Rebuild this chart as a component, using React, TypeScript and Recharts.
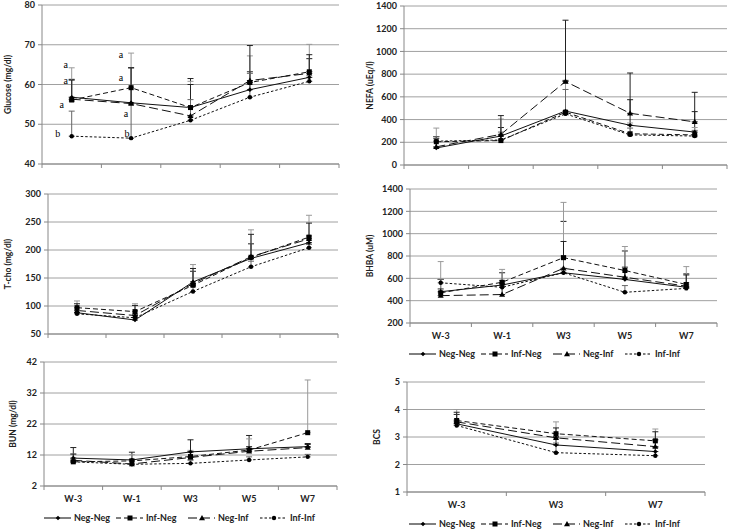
import React from 'react';
import { LineChart, Line, XAxis, YAxis, CartesianGrid, ErrorBar, Legend, ReferenceDot } from 'recharts';

const FONT = "Lato, 'Open Sans', 'Liberation Sans', sans-serif";

const weeks5 = ['W-3', 'W-1', 'W3', 'W5', 'W7'];
const weeks3 = ['W-3', 'W3', 'W7'];
const seriesNames = ['Neg-Neg', 'Inf-Neg', 'Neg-Inf', 'Inf-Inf'];

// Glucose (mg/dl): rows = Neg-Neg, Inf-Neg, Neg-Inf, Inf-Inf
const glucoseMean = [
  [56.8, 55.4, 54.2, 58.7, 61.8],
  [56.1, 59.2, 54.2, 60.5, 63.2],
  [56.3, 55.2, 52.1, 61.0, 62.8],
  [47.0, 46.5, 51.0, 56.8, 60.8],
];
const glucoseErr = [
  [4.5, 8.8, 7.3, 4.5, 4.7],
  [8.1, 8.7, 6.6, 6.7, 6.9],
  [4.8, 9.0, 7.9, 8.8, 4.7],
  [6.3, 8.5, 5.2, 6.0, 2.5],
];
const glucoseLetters = [
  { i: 0, y: 65.0, t: 'a' },
  { i: 0, y: 61.0, t: 'a' },
  { i: 0, y: 55.0, t: 'a' },
  { i: 0, y: 47.6, t: 'b' },
  { i: 1, y: 67.5, t: 'a' },
  { i: 1, y: 61.7, t: 'a' },
  { i: 1, y: 52.8, t: 'a' },
  { i: 1, y: 47.6, t: 'b' },
];
const glucoseLetterDx = [-6, -6, -10, -14, -10, -10, -5, -4];

// NEFA (uEq/l)
const nefaMean = [
  [150, 255, 475, 350, 290],
  [205, 215, 465, 275, 265],
  [160, 270, 735, 455, 380],
  [210, 220, 450, 265, 255],
];
const nefaErr = [
  [85, 75, 270, 225, 180],
  [120, 190, 255, 95, 65],
  [90, 165, 540, 355, 260],
  [40, 70, 215, 60, 50],
];

// T-cho (mg/dl)
const tchoMean = [
  [88, 75, 143, 185, 213],
  [97, 90, 137, 187, 223],
  [92, 83, 140, 188, 220],
  [86, 79, 126, 170, 204],
];
const tchoErr = [
  [9, 10, 19, 26, 12],
  [12, 14, 37, 49, 39],
  [12, 18, 27, 40, 28],
  [6, 6, 9, 10, 6],
];

// BHBA (uM)
const bhbaMean = [
  [480, 540, 650, 590, 520],
  [470, 565, 785, 670, 545],
  [445, 455, 690, 610, 530],
  [560, 520, 650, 475, 510],
];
const bhbaErr = [
  [110, 110, 460, 255, 120],
  [280, 115, 495, 215, 160],
  [60, 100, 240, 90, 100],
  [30, 60, 150, 60, 50],
];

// BUN (mg/dl)
const bunMean = [
  [11.0, 10.4, 13.0, 14.0, 14.7],
  [9.8, 10.1, 11.5, 13.6, 19.2],
  [10.3, 9.1, 11.2, 13.2, 14.4],
  [9.8, 9.0, 9.3, 10.4, 11.4],
];
const bunErr = [
  [3.4, 2.5, 3.9, 4.3, 1.0],
  [2.5, 2.0, 2.0, 3.6, 17.0],
  [2.0, 1.5, 1.8, 1.5, 1.0],
  [1.0, 1.0, 1.0, 1.0, 0.8],
];

// BCS
const bcsMean = [
  [3.48, 2.71, 2.47],
  [3.6, 3.12, 2.86],
  [3.55, 2.97, 2.65],
  [3.42, 2.43, 2.32],
];
const bcsErr = [
  [0.34, 0.3, 0.43],
  [0.4, 0.43, 0.43],
  [0.35, 0.36, 0.54],
  [0.2, 0.35, 0.3],
];

const glucoseTicks = [40, 50, 60, 70, 80];
const nefaTicks = [0, 200, 400, 600, 800, 1000, 1200, 1400];
const tchoTicks = [50, 100, 150, 200, 250, 300];
const bhbaTicks = [200, 400, 600, 800, 1000, 1200, 1400];
const bunTicks = [2, 12, 22, 32, 42];
const bcsTicks = [1, 2, 3, 4, 5];

const seriesStyle = [
  { dash: undefined as string | undefined, marker: 'diamond', err: '#222' },
  { dash: '5 3', marker: 'square', err: '#9a9a9a' },
  { dash: '9 4', marker: 'triangle', err: '#222' },
  { dash: '2.5 2', marker: 'circle', err: '#666' },
];

function Marker({ cx, cy, kind }: { cx: number; cy: number; kind: string }) {
  if (cx == null || cy == null || isNaN(cx) || isNaN(cy)) return <g />;
  switch (kind) {
    case 'diamond':
      return <path d={`M${cx} ${cy - 2.3}L${cx + 2.3} ${cy}L${cx} ${cy + 2.3}L${cx - 2.3} ${cy}Z`} fill="#000" />;
    case 'square':
      return <rect x={cx - 2.5} y={cy - 2.5} width={5} height={5} fill="#000" />;
    case 'triangle':
      return <path d={`M${cx} ${cy - 3}L${cx + 3} ${cy + 2.2}L${cx - 3} ${cy + 2.2}Z`} fill="#000" />;
    default:
      return <circle cx={cx} cy={cy} r={2.2} fill="#000" />;
  }
}

function LegendContent() {
  return (
    <div style={{ display: 'flex', height: 12, alignItems: 'center', fontFamily: FONT, fontSize: 9, fontWeight: 700, color: '#222', lineHeight: '12px' }}>
      {seriesNames.map((n, k) => (
        <div key={n} style={{ display: 'flex', alignItems: 'center', width: 72 }}>
          <svg width={29} height={12} style={{ display: 'block' }}>
            <line x1={1} x2={28} y1={6} y2={6} stroke="#000" strokeWidth={1} strokeDasharray={seriesStyle[k].dash} />
            <Marker cx={15} cy={6} kind={seriesStyle[k].marker} />
          </svg>
          <span style={{ marginLeft: 2 }}>{n}</span>
        </div>
      ))}
    </div>
  );
}

function makeXTick(labels: string[] | null) {
  return (props: any) => {
    const { x, y, payload } = props;
    const v = payload.value;
    if (Math.abs(v - Math.round(v)) < 1e-6) {
      if (!labels) return <g />;
      return (
        <text x={x} y={y + 16} textAnchor="middle" fontSize={9} fontWeight={700} fill="#222" fontFamily={FONT}>
          {labels[Math.round(v)]}
        </text>
      );
    }
    return <line x1={x} x2={x} y1={y} y2={y + 4} stroke="#888" strokeWidth={1} />;
  };
}

function yLabel(text: string, dx: number) {
  return (p: any) => {
    const vb = p.viewBox || { x: 0, y: 0, width: 0, height: 0 };
    const cx = vb.x + dx;
    const cy = vb.y + vb.height / 2;
    return (
      <text x={cx} y={cy} transform={`rotate(-90 ${cx} ${cy})`} textAnchor="middle" dominantBaseline="central" fontSize={8.5} fontWeight={700} fill="#222" fontFamily={FONT}>
        {text}
      </text>
    );
  };
}

type PanelCfg = {
  key: string; left: number; top: number; width: number; height: number;
  yw: number; mt: number; mr: number; mb: number; xh: number;
  legend: boolean; labels: boolean; ylabel: string; ylx: number;
  domain: [number, number]; ticks: number[]; cats: string[];
  mean: number[][]; err: number[][]; letters?: boolean;
};

const panels: PanelCfg[] = [
  { key: 'glu', left: 0, top: 0, width: 345, height: 170, yw: 42, mt: 5, mr: 6, mb: 0, xh: 6, legend: false, labels: false, ylabel: 'Glucose (mg/dl)', ylx: 8, domain: [40, 80], ticks: glucoseTicks, cats: weeks5, mean: glucoseMean, err: glucoseErr, letters: true },
  { key: 'nefa', left: 365, top: 0, width: 365, height: 170, yw: 39, mt: 6, mr: 3, mb: 0, xh: 5, legend: false, labels: false, ylabel: 'NEFA (uEq/l)', ylx: 5, domain: [0, 1400], ticks: nefaTicks, cats: weeks5, mean: nefaMean, err: nefaErr },
  { key: 'tcho', left: 0, top: 185, width: 345, height: 155, yw: 48, mt: 9, mr: 7, mb: 0, xh: 6, legend: false, labels: false, ylabel: 'T-cho (mg/dl)', ylx: 8, domain: [50, 300], ticks: tchoTicks, cats: weeks5, mean: tchoMean, err: tchoErr },
  { key: 'bhba', left: 365, top: 180, width: 365, height: 185, yw: 45, mt: 9, mr: 13, mb: 5, xh: 25, legend: true, labels: true, ylabel: 'BHBA (uM)', ylx: 5, domain: [200, 1400], ticks: bhbaTicks, cats: weeks5, mean: bhbaMean, err: bhbaErr },
  { key: 'bun', left: 0, top: 355, width: 345, height: 175, yw: 44, mt: 7, mr: 8, mb: 6, xh: 26, legend: true, labels: true, ylabel: 'BUN (mg/dl)', ylx: 13, domain: [2, 42], ticks: bunTicks, cats: weeks5, mean: bunMean, err: bunErr },
  { key: 'bcs', left: 365, top: 370, width: 365, height: 160, yw: 42, mt: 12, mr: 25, mb: 0, xh: 26, legend: true, labels: true, ylabel: 'BCS', ylx: 12, domain: [1, 5], ticks: bcsTicks, cats: weeks3, mean: bcsMean, err: bcsErr },
];

function buildRows(cats: string[], mean: number[][], err: number[][]) {
  return cats.map((c, i) => {
    const row: any = { i, cat: c };
    mean.forEach((s, k) => {
      row[`s${k}`] = s[i];
      row[`e${k}`] = [0, err[k][i]];
    });
    return row;
  });
}

function Panel({ p }: { p: PanelCfg }) {
  const rows = buildRows(p.cats, p.mean, p.err);
  const n = p.cats.length;
  const xTicks: number[] = [];
  for (let t = -0.5; t <= n - 0.5 + 1e-9; t += 0.5) xTicks.push(t);
  return (
    <div style={{ position: 'absolute', left: p.left, top: p.top }}>
      <LineChart width={p.width} height={p.height} data={rows} margin={{ top: p.mt, right: p.mr, bottom: p.mb, left: 0 }}>
        <CartesianGrid vertical={false} stroke="#a0a0a0" strokeWidth={1} />
        <XAxis
          dataKey="i"
          type="number"
          domain={[-0.5, n - 0.5]}
          ticks={xTicks}
          interval={0}
          height={p.xh}
          tickSize={0}
          tickMargin={0}
          tickLine={false}
          axisLine={{ stroke: '#888' }}
          tick={makeXTick(p.labels ? p.cats : null)}
          allowDataOverflow
        />
        <YAxis
          type="number"
          domain={p.domain}
          ticks={p.ticks}
          interval={0}
          width={p.yw}
          tickSize={4}
          tickMargin={3}
          axisLine={{ stroke: '#888' }}
          tickLine={{ stroke: '#888' }}
          tick={{ fontSize: 9, fontWeight: 700, fill: '#222', fontFamily: FONT }}
          label={yLabel(p.ylabel, p.ylx)}
          allowDataOverflow
        />
        {seriesStyle.map((s, k) => (
          <Line
            key={k}
            type="linear"
            dataKey={`s${k}`}
            name={seriesNames[k]}
            stroke="#111"
            strokeWidth={1}
            strokeDasharray={s.dash}
            dot={(d: any) => <Marker key={`d${k}-${d.index}`} cx={d.cx} cy={d.cy} kind={s.marker} />}
            activeDot={false}
            isAnimationActive={false}
          >
            <ErrorBar dataKey={`e${k}`} width={3} stroke={s.err} strokeWidth={1} direction="y" isAnimationActive={false} />
          </Line>
        ))}
        {p.letters &&
          glucoseLetters.map((l, j) => (
            <ReferenceDot
              key={`l${j}`}
              x={l.i}
              y={l.y}
              r={0}
              fill="none"
              stroke="none"
              label={(lp: any) => {
                const vb = lp.viewBox || { x: 0, y: 0 };
                return (
                  <text x={vb.x + glucoseLetterDx[j]} y={vb.y} textAnchor="middle" dominantBaseline="central" fontSize={10} style={{ fill: '#000' }} fontFamily="'Liberation Serif', serif">
                    {l.t}
                  </text>
                );
              }}
            />
          ))}
        {p.legend && (
          <Legend
            verticalAlign="bottom"
            align="left"
            content={() => <LegendContent />}
            wrapperStyle={{ left: 43, width: 300, bottom: p.mb, height: 12 }}
          />
        )}
      </LineChart>
    </div>
  );
}

export default function App() {
  return (
    <div style={{ position: 'fixed', left: 0, top: 0, width: 730, height: 530, background: '#fff', overflow: 'hidden' }}>
      {panels.map((p) => (
        <Panel key={p.key} p={p} />
      ))}
    </div>
  );
}
